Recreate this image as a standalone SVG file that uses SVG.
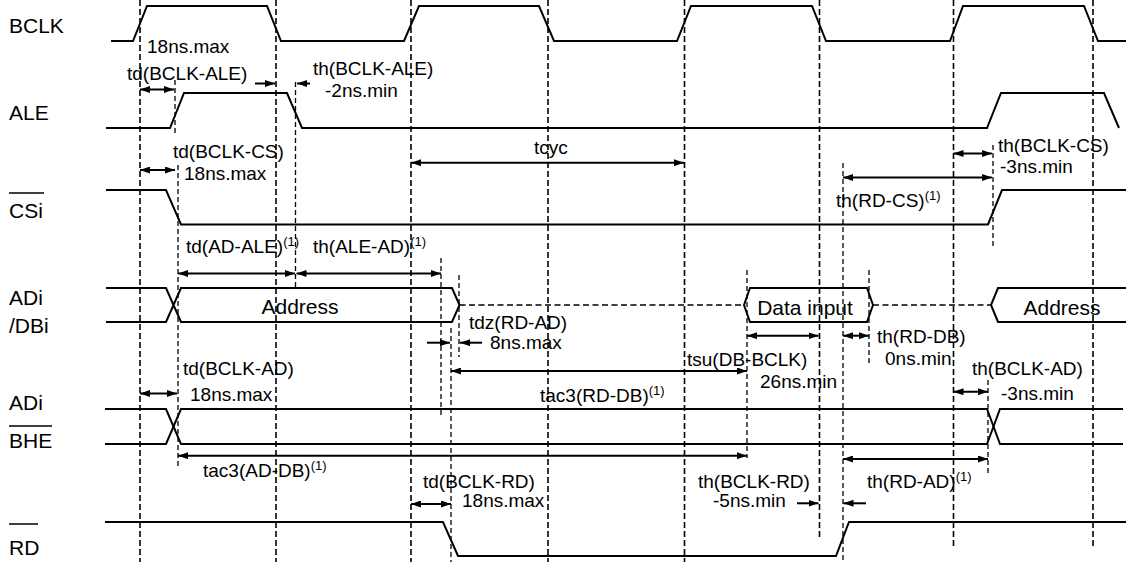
<svg xmlns="http://www.w3.org/2000/svg" width="1126" height="562" viewBox="0 0 1126 562">
<style>
text{font-family:"Liberation Sans",Arial,sans-serif;fill:#000}
.lbl{font-size:21px}
.ann{font-size:19px}
.sup{font-size:13px}
.sig{fill:none;stroke:#000;stroke-width:2;stroke-linejoin:miter}
.g1{stroke:#000;stroke-width:1.6;stroke-dasharray:6 3;fill:none}
.g2{stroke:#000;stroke-width:1.3;stroke-dasharray:5 3;fill:none}
.bus{stroke:#000;stroke-width:1.6;stroke-dasharray:6 3.5;fill:none}
.ar{stroke:#000;stroke-width:2;fill:none;marker-end:url(#ah)}
.dar{stroke:#000;stroke-width:2;fill:none;marker-start:url(#ah);marker-end:url(#ah)}
</style>
<defs>
<marker id="ah" viewBox="0 0 10 7" refX="10" refY="3.5" markerWidth="10" markerHeight="7" markerUnits="userSpaceOnUse" orient="auto-start-reverse">
<path d="M0,0 L10,3.5 L0,7 z" fill="#000"/>
</marker>
</defs>
<rect width="1126" height="562" fill="#fff"/>

<g id="guides">
<line class="g1" x1="140" y1="0" x2="140" y2="562"/>
<line class="g1" x1="276" y1="0" x2="276" y2="562"/>
<line class="g1" x1="411" y1="0" x2="411" y2="562"/>
<line class="g1" x1="548" y1="0" x2="548" y2="562"/>
<line class="g1" x1="684.5" y1="0" x2="684.5" y2="562"/>
<line class="g1" x1="819.5" y1="0" x2="819.5" y2="540"/>
<line class="g1" x1="953.5" y1="0" x2="953.5" y2="548"/>
<line class="g1" x1="1093" y1="0" x2="1093" y2="548"/>
<line class="g2" x1="175" y1="80" x2="175" y2="133"/>
<line class="g2" x1="178" y1="165" x2="178" y2="468"/>
<line class="g2" x1="295.5" y1="82" x2="295.5" y2="290"/>
<line class="g2" x1="441" y1="258" x2="441" y2="415"/>
<line class="g2" x1="459" y1="275" x2="459" y2="357"/>
<line class="g2" x1="451" y1="328" x2="451" y2="562"/>
<line class="g2" x1="747" y1="270" x2="747" y2="458"/>
<line class="g2" x1="869" y1="270" x2="869" y2="363"/>
<line class="g2" x1="843" y1="163" x2="843" y2="562"/>
<line class="g2" x1="993" y1="145" x2="993" y2="247"/>
<line class="g2" x1="988" y1="380" x2="988" y2="473"/>
</g>

<g id="BCLK">
<text class="lbl" x="9" y="33">BCLK</text>
<path class="sig" d="M111,41 H133 L147,6 H267 L281,41 H404 L419,6 H539 L554,41 H677 L691,6 H812 L826,41 H950 L963,6 H1084 L1098,41 H1126"/>
</g>

<g id="ALE">
<text class="lbl" x="9" y="120">ALE</text>
<path class="sig" d="M106,128 H170 L184,93 H287 L302,128 H987 L1001,93 H1104 L1119,128"/>
</g>

<g id="CSi">
<text class="lbl" x="9" y="218">CSi</text>
<line x1="9" y1="193" x2="44" y2="193" stroke="#000" stroke-width="1.5"/>
<path class="sig" d="M106,190 H166 L181,224.5 H988 L1002,190 H1126"/>
</g>

<g id="ADi_DBi">
<text class="lbl" x="9" y="305">ADi</text>
<text class="lbl" x="9" y="333">/DBi</text>
<path class="sig" d="M106,288 H166 L181,322 H452 L459.5,305 L452,288 H181 L166,322 H106"/>
<line class="bus" x1="459.5" y1="305" x2="744" y2="305"/>
<path class="sig" d="M744,305 L750,288 H867 L873,305 L867,322 H750 Z"/>
<line class="bus" x1="873" y1="305" x2="991" y2="305"/>
<path class="sig" d="M1126,288 H998 L991,305 L998,322 H1126"/>
<text class="lbl" x="300" y="314" text-anchor="middle">Address</text>
<text class="lbl" x="805" y="315" text-anchor="middle">Data input</text>
<text class="lbl" x="1062" y="315" text-anchor="middle">Address</text>
</g>

<g id="ADi_BHE">
<text class="lbl" x="9" y="410">ADi</text>
<text class="lbl" x="9" y="448">BHE</text>
<line x1="9" y1="426" x2="52" y2="426" stroke="#000" stroke-width="1.5"/>
<path class="sig" d="M105,409 H166 L181,444 H987 L1000,409 H1123"/>
<path class="sig" d="M105,444 H166 L181,409 H987 L1000,444 H1123"/>
</g>

<g id="RD">
<text class="lbl" x="9" y="555">RD</text>
<line x1="9" y1="524" x2="38" y2="524" stroke="#000" stroke-width="1.5"/>
<path class="sig" d="M105,522 H443 L458,556 H836 L849,522 H1126"/>
</g>

<g id="connectors">
<line class="dar" x1="140" y1="89.5" x2="174" y2="89.5"/>
<line class="ar" x1="255" y1="83.5" x2="275" y2="83.5"/>
<line class="ar" x1="310" y1="83.5" x2="297" y2="83.5"/>
<line class="dar" x1="140" y1="170" x2="175" y2="170"/>
<line class="dar" x1="411" y1="162.7" x2="684" y2="162.7"/>
<line class="dar" x1="953.5" y1="153.5" x2="992" y2="153.5"/>
<line class="dar" x1="843" y1="177.5" x2="992" y2="177.5"/>
<line class="dar" x1="178" y1="273.5" x2="295" y2="273.5"/>
<line class="dar" x1="296.5" y1="273.5" x2="441" y2="273.5"/>
<line class="dar" x1="747" y1="335.7" x2="818.5" y2="335.7"/>
<line class="dar" x1="843" y1="335.7" x2="869" y2="335.7"/>
<line class="ar" x1="427" y1="342.7" x2="450" y2="342.7"/>
<line class="ar" x1="482" y1="342.7" x2="460" y2="342.7"/>
<line class="dar" x1="451" y1="371" x2="747" y2="371"/>
<line class="dar" x1="140" y1="393.5" x2="177" y2="393.5"/>
<line class="dar" x1="953.5" y1="391.7" x2="988" y2="391.7"/>
<line class="dar" x1="178" y1="455.7" x2="747" y2="455.7"/>
<line class="dar" x1="843" y1="459" x2="988" y2="459"/>
<line class="dar" x1="411" y1="504" x2="451" y2="504"/>
<line class="ar" x1="797" y1="503.3" x2="818.5" y2="503.3"/>
<line class="ar" x1="866" y1="503.3" x2="843.5" y2="503.3"/>
</g>

<g id="annotations">
<text class="ann" x="147" y="53">18ns.max</text>
<text class="ann" x="127" y="80">td(BCLK-ALE)</text>
<text class="ann" x="313" y="75">th(BCLK-ALE)</text>
<text class="ann" x="325" y="97">-2ns.min</text>
<text class="ann" x="173" y="158">td(BCLK-CS)</text>
<text class="ann" x="184" y="180">18ns.max</text>
<text class="ann" x="534" y="154">tcyc</text>
<text class="ann" x="998" y="152">th(BCLK-CS)</text>
<text class="ann" x="1000" y="173">-3ns.min</text>
<text class="ann" x="836" y="207">th(RD-CS)<tspan class="sup" dy="-7">(1)</tspan></text>
<text class="ann" x="186" y="253">td(AD-ALE)<tspan class="sup" dy="-7">(1)</tspan></text>
<text class="ann" x="313" y="253">th(ALE-AD)<tspan class="sup" dy="-7">(1)</tspan></text>
<text class="ann" x="469" y="329">tdz(RD-AD)</text>
<text class="ann" x="490" y="349">8ns.max</text>
<text class="ann" x="877" y="343">th(RD-DB)</text>
<text class="ann" x="885" y="365">0ns.min</text>
<text class="ann" x="687" y="366">tsu(DB-BCLK)</text>
<text class="ann" x="760" y="388">26ns.min</text>
<text class="ann" x="183" y="375">td(BCLK-AD)</text>
<text class="ann" x="190" y="401">18ns.max</text>
<text class="ann" x="540" y="402">tac3(RD-DB)<tspan class="sup" dy="-7">(1)</tspan></text>
<text class="ann" x="972" y="375">th(BCLK-AD)</text>
<text class="ann" x="1001" y="400">-3ns.min</text>
<text class="ann" x="203" y="477">tac3(AD-DB)<tspan class="sup" dy="-7">(1)</tspan></text>
<text class="ann" x="423" y="488">td(BCLK-RD)</text>
<text class="ann" x="462" y="507">18ns.max</text>
<text class="ann" x="698" y="488">th(BCLK-RD)</text>
<text class="ann" x="713" y="507">-5ns.min</text>
<text class="ann" x="867" y="488">th(RD-AD)<tspan class="sup" dy="-7">(1)</tspan></text>
</g>
</svg>
